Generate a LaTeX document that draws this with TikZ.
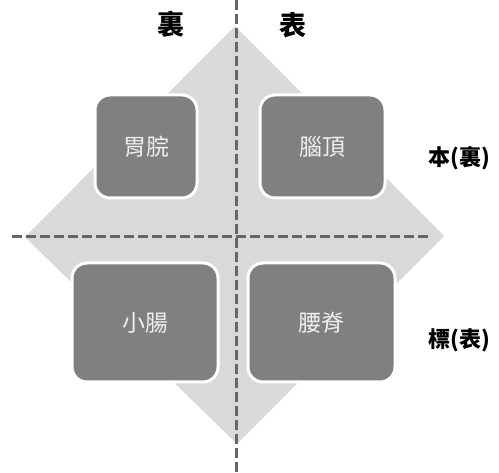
\documentclass[tikz,border=0pt]{standalone}
\usepackage{fontspec}
\newfontfamily\cjk{Noto Sans CJK TC}
\begin{document}
\begin{tikzpicture}[x=1pt,y=-1pt,
  organ/.style={draw=white,line width=3pt,fill=black!50,rounded corners=15pt,
    text=white!94!black,font=\cjk\fontsize{23}{23}\selectfont,inner sep=0pt},
  axis/.style={draw=black!60,line width=3pt,dash pattern=on 10pt off 4pt},
  lbl/.style={font=\cjk\bfseries\fontsize{22}{22}\selectfont,text=black,inner sep=0pt},
  toplbl/.style={lbl,font=\cjk\bfseries\fontsize{27}{27}\selectfont}]
\useasboundingbox (0,0) rectangle (499,473);
% diamond
\coordinate (dT) at (235,26);
\coordinate (dR) at (444,236);
\coordinate (dB) at (237,444);
\coordinate (dL) at (25,237);
\fill[black!15] (dT) -- (dR) -- (dB) -- (dL) -- cycle;
% axes
\coordinate (vT) at (236,0);
\coordinate (vB) at (236,473);
\coordinate (hL) at (12,237);
\coordinate (hR) at (428,237);
\draw[axis] (vT) -- (vB);
\draw[axis] (hL) -- (hR);
% boxes
\node[organ,minimum width=102pt,minimum height=103pt] (weiwan) at (146,146.5) {胃脘};
\node[organ,minimum width=125pt,minimum height=103pt] (naoding) at (322.5,146.5) {腦頂};
\node[organ,minimum width=146pt,minimum height=119pt] (xiaochang) at (145,322.5) {小腸};
\node[organ,minimum width=147pt,minimum height=119pt] (yaoji) at (321.5,322.5) {腰脊};
% labels
\node[toplbl] (li) at (171,24) {裏};
\node[toplbl] (biao) at (293,25) {表};
\node[lbl] (ben) at (459,158) {本(裏)};
\node[lbl] (biaob) at (459,340) {標(表)};
\end{tikzpicture}
\end{document}
